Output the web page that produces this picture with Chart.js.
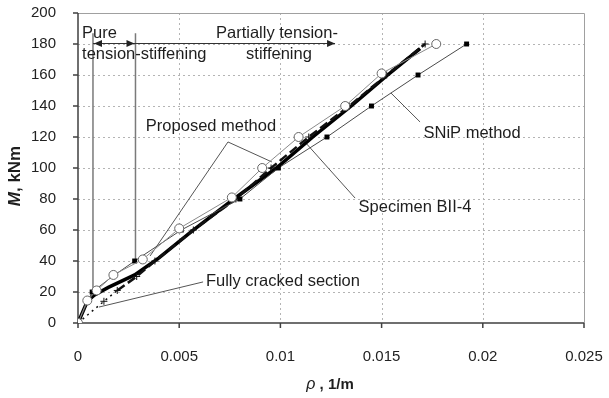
<!DOCTYPE html>
<html lang="en">
<head>
<meta charset="UTF-8" />
<title>Moment vs curvature</title>
<style>
  html, body { margin: 0; padding: 0; background: #fff; }
  #wrap { width: 609px; height: 398px; }
</style>
</head>
<body>
<div id="wrap"><canvas id="chart" width="609" height="398"></canvas></div>
<script src="https://cdn.jsdelivr.net/npm/chart.js"></script>
<script>
// axis ticks
const rhoTicks = [0, 0.005, 0.01, 0.015, 0.02, 0.025];
const momentTicks = [0, 20, 40, 60, 80, 100, 120, 140, 160, 180, 200];

// Specimen BII-4 (test)
const specimenRho = [0, 0.00046, 0.00092, 0.00175, 0.0032, 0.0050, 0.0076, 0.0091, 0.0109, 0.0132, 0.0150, 0.0177];
const specimenM   = [0, 14.5, 21, 31, 41, 61, 81, 100, 120, 140, 161, 180];

// SNiP method
const snipRho = [0, 0.0007, 0.0017, 0.0028, 0.0051, 0.0080, 0.0099, 0.0123, 0.0145, 0.0168, 0.0192];
const snipM   = [0, 20, 30, 40, 60, 80, 100, 120, 140, 160, 180];

// Fully cracked section
const crackedRho = [0, 0.00128, 0.00194, 0.0029, 0.0038, 0.0057, 0.0078, 0.00954, 0.0114, 0.0134, 0.01525, 0.01715];
const crackedM   = [0, 14, 21, 30, 40, 60, 80, 100, 120, 140, 160, 180];

// Proposed method
const proposedRho = [0, 0.00046, 0.0008, 0.0015, 0.0028, 0.0040, 0.0056, 0.0077, 0.0098, 0.0116, 0.0135, 0.0153, 0.0169];
const proposedM   = [0, 14, 18, 23, 31, 42, 59, 80, 100, 120, 140, 160, 177];

// zone boundaries (rho) and where their lines start (M)
const zoneRho = [0.00074, 0.00284];
const zoneFromM = [20, 40];
const zoneTopM = 187;
const arrowM = 180.5;
const arrowEndRho = 0.0127;

// labels: text, rho, M, align
const labels = [
  ["Pure", 0.0002, 187, "left"],
  ["tension-stiffening", 0.0002, 173, "left"],
  ["Partially tension-", 0.00983, 187, "center"],
  ["stiffening", 0.00993, 173, "center"],
  ["Proposed method", 0.00657, 127, "center"],
  ["SNiP method", 0.01947, 122.6, "center"],
  ["Specimen BII-4", 0.01665, 74.8, "center"],
  ["Fully cracked section", 0.00632, 27.1, "left"]
];

// callout leader lines: [rho1, M1, rho2, M2]
const leaders = [
  [0.00741, 116.8, 0.00356, 43.2],
  [0.00741, 116.8, 0.00958, 103.9],
  [0.0169, 129.7, 0.01546, 148.4],
  [0.01369, 80.6, 0.01126, 116.1],
  [0.00618, 26.5, 0.00104, 10.3]
];

function pts(xs, ys) {
  return xs.map((x, i) => ({ x: x, y: ys[i] }));
}

const FONT = "'Liberation Sans', Arial, sans-serif";

const decor = {
  id: "decor",
  beforeDatasetsDraw(chart) {
    const { ctx, chartArea: a, scales: { x, y } } = chart;
    ctx.save();
    // dotted grid
    ctx.strokeStyle = "#b4b4b4";
    ctx.lineWidth = 1;
    ctx.setLineDash([2, 3]);
    ctx.beginPath();
    rhoTicks.slice(1, -1).forEach(v => {
      const px = Math.round(x.getPixelForValue(v)) + 0.5;
      ctx.moveTo(px, a.top); ctx.lineTo(px, a.bottom);
    });
    momentTicks.slice(1, -1).forEach(v => {
      const py = Math.round(y.getPixelForValue(v)) + 0.5;
      ctx.moveTo(a.left, py); ctx.lineTo(a.right, py);
    });
    ctx.stroke();
    ctx.setLineDash([]);
    // top / right frame
    ctx.strokeStyle = "#a0a0a0";
    ctx.beginPath();
    ctx.moveTo(a.left, a.top + 0.5); ctx.lineTo(a.right + 0.5, a.top + 0.5); ctx.lineTo(a.right + 0.5, a.bottom);
    ctx.stroke();
    // axes and tick marks
    ctx.strokeStyle = "#404040";
    ctx.lineWidth = 1.5;
    ctx.beginPath();
    ctx.moveTo(a.left, a.top); ctx.lineTo(a.left, a.bottom); ctx.lineTo(a.right, a.bottom);
    rhoTicks.forEach(v => {
      const px = x.getPixelForValue(v);
      ctx.moveTo(px, a.bottom); ctx.lineTo(px, a.bottom + 5);
    });
    momentTicks.forEach(v => {
      const py = y.getPixelForValue(v);
      ctx.moveTo(a.left - 5, py); ctx.lineTo(a.left, py);
    });
    ctx.stroke();
    // zone boundaries
    ctx.strokeStyle = "#7a7a7a";
    ctx.lineWidth = 1.5;
    ctx.beginPath();
    zoneRho.forEach((r, i) => {
      const px = x.getPixelForValue(r);
      ctx.moveTo(px, y.getPixelForValue(zoneFromM[i]));
      ctx.lineTo(px, y.getPixelForValue(zoneTopM));
    });
    ctx.stroke();
    // leader lines
    ctx.strokeStyle = "#555";
    ctx.lineWidth = 1;
    ctx.beginPath();
    leaders.forEach(l => {
      ctx.moveTo(x.getPixelForValue(l[0]), y.getPixelForValue(l[1]));
      ctx.lineTo(x.getPixelForValue(l[2]), y.getPixelForValue(l[3]));
    });
    ctx.stroke();
    ctx.restore();
  },
  afterDraw(chart) {
    const { ctx, chartArea: a, scales: { x, y } } = chart;
    ctx.save();
    // arrows
    const ay = Math.round(y.getPixelForValue(arrowM)) + 0.5;
    const x0 = x.getPixelForValue(zoneRho[0]);
    const x1 = x.getPixelForValue(zoneRho[1]);
    const x2 = x.getPixelForValue(arrowEndRho);
    ctx.strokeStyle = "#333";
    ctx.fillStyle = "#222";
    ctx.lineWidth = 1;
    ctx.beginPath();
    ctx.moveTo(x0, ay); ctx.lineTo(x2, ay);
    ctx.stroke();
    function head(px, dir) {
      ctx.beginPath();
      ctx.moveTo(px, ay);
      ctx.lineTo(px - dir * 8, ay - 3.5);
      ctx.lineTo(px - dir * 8, ay + 3.5);
      ctx.closePath();
      ctx.fill();
    }
    head(x0 + 1, -1);
    head(x1 - 1, 1);
    head(x2, 1);
    // labels
    ctx.fillStyle = "#1e1e1e";
    ctx.font = "16.5px " + FONT;
    ctx.textBaseline = "middle";
    labels.forEach(l => {
      ctx.textAlign = l[3];
      ctx.fillText(l[0], x.getPixelForValue(l[1]), y.getPixelForValue(l[2]));
    });
    // x axis title
    ctx.textAlign = "left";
    const p1 = "\u03c1";
    ctx.font = "italic 16px " + FONT;
    const w1 = ctx.measureText(p1).width;
    ctx.font = "bold 15px " + FONT;
    const p2 = " , 1/m";
    const w2 = ctx.measureText(p2).width;
    const sx = 330 - (w1 + w2) / 2;
    const ty = 385;
    ctx.font = "italic 16px " + FONT;
    ctx.fillText(p1, sx, ty);
    ctx.font = "bold 15px " + FONT;
    ctx.fillText(p2, sx + w1, ty);
    // y axis title
    ctx.save();
    ctx.translate(15, 176);
    ctx.rotate(-Math.PI / 2);
    ctx.font = "bold italic 17px " + FONT;
    const q1 = "M";
    const v1 = ctx.measureText(q1).width;
    ctx.font = "bold 17px " + FONT;
    const q2 = ", kNm";
    const v2 = ctx.measureText(q2).width;
    const qx = -(v1 + v2) / 2;
    ctx.font = "bold italic 17px " + FONT;
    ctx.fillText(q1, qx, 0);
    ctx.font = "bold 17px " + FONT;
    ctx.fillText(q2, qx + v1, 0);
    ctx.restore();
    ctx.restore();
  }
};

new Chart(document.getElementById("chart"), {
  type: "scatter",
  data: {
    datasets: [
      {
        label: "Specimen BII-4",
        data: pts(specimenRho, specimenM),
        showLine: true,
        borderColor: "#8a8a8a",
        borderWidth: 1,
        pointStyle: "circle",
        pointRadius: 4.5,
        pointBackgroundColor: "#fff",
        pointBorderColor: "#666",
        pointBorderWidth: 1
      },
      {
        label: "SNiP method",
        data: pts(snipRho, snipM),
        showLine: true,
        borderColor: "#4a4a4a",
        borderWidth: 1,
        pointStyle: "rect",
        pointRadius: 3.5,
        pointBackgroundColor: "#000",
        pointBorderColor: "#000",
        pointBorderWidth: 0
      },
      {
        label: "Fully cracked section",
        data: pts(crackedRho, crackedM),
        showLine: true,
        borderColor: "#111",
        borderWidth: 2,
        segment: {
          borderDash: c => c.p0DataIndex < 2 ? [2, 4] : [9, 4],
          borderWidth: c => c.p0DataIndex < 2 ? 1.5 : 2.5
        },
        pointStyle: "cross",
        pointRadius: 3.5,
        pointBorderColor: "#111",
        pointBorderWidth: 1
      },
      {
        label: "Proposed method",
        data: pts(proposedRho, proposedM),
        showLine: true,
        borderColor: "#000",
        borderWidth: 3.5,
        pointRadius: 0
      }
    ]
  },
  options: {
    responsive: false,
    animation: false,
    events: [],
    layout: { padding: { top: 13, right: 25, left: 0, bottom: 0 } },
    scales: {
      x: {
        type: "linear",
        min: 0,
        max: 0.025,
        afterFit: s => { s.height = 75; s.paddingLeft = 0; s.paddingRight = 0; },
        afterBuildTicks: s => { s.ticks = rhoTicks.map(v => ({ value: v })); },
        grid: { display: false },
        border: { display: false },
        ticks: {
          padding: 17,
          color: "#222",
          font: { family: FONT, size: 15 },
          callback: v => String(v)
        }
      },
      y: {
        type: "linear",
        min: 0,
        max: 200,
        afterFit: s => { s.width = 78; s.paddingTop = 0; s.paddingBottom = 0; },
        afterBuildTicks: s => { s.ticks = momentTicks.map(v => ({ value: v })); },
        grid: { display: false },
        border: { display: false },
        ticks: {
          padding: 14,
          color: "#222",
          font: { family: FONT, size: 15 }
        }
      }
    },
    plugins: {
      legend: { display: false },
      tooltip: { enabled: false }
    }
  },
  plugins: [decor]
});
</script>
</body>
</html>
